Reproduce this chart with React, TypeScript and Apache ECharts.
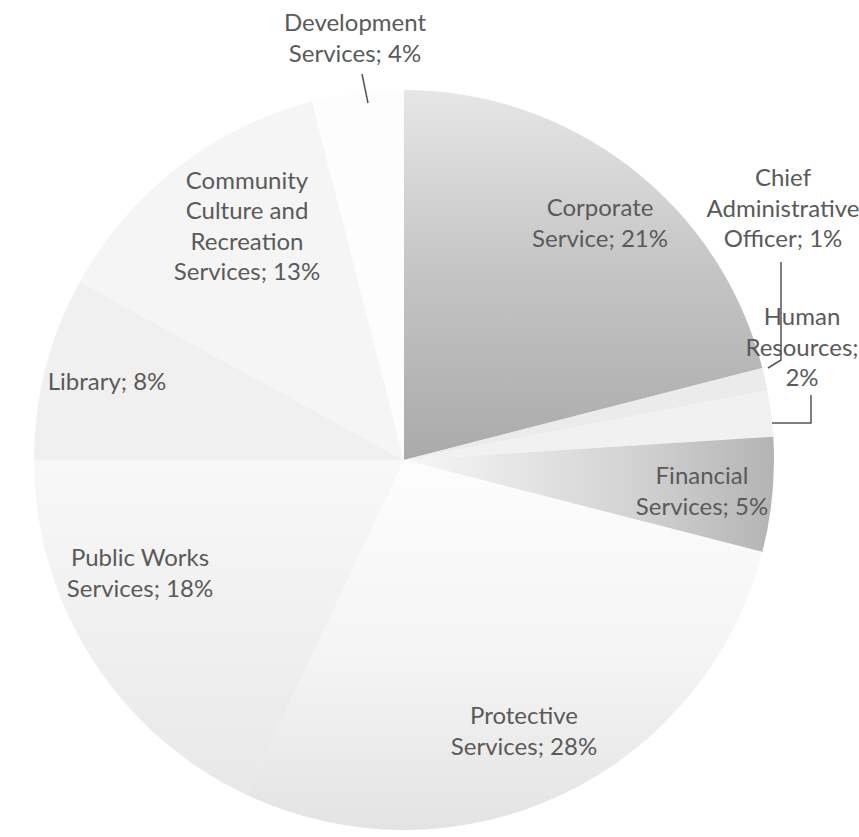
import React, { useEffect, useRef } from "react";
import * as echarts from "echarts";

// ---- data ----
const CATEGORIES = [
  "Corporate Service",
  "Chief Administrative Officer",
  "Human Resources",
  "Financial Services",
  "Protective Services",
  "Public Works Services",
  "Library",
  "Community Culture and Recreation Services",
  "Development Services",
];
const VALUES = [21, 1, 2, 5, 28, 18, 8, 13, 4];
const LABEL_NAMES = [
  "Corporate\nService",
  "Chief\nAdministrative\nOfficer",
  "Human\nResources",
  "Financial\nServices",
  "Protective\nServices",
  "Public Works\nServices",
  "Library",
  "Community\nCulture and\nRecreation\nServices",
  "Development\nServices",
];
const VALUE_ON_OWN_LINE = [false, false, true, false, false, false, false, false, false];
const OUTSIDE = [false, true, true, false, false, false, false, false, true];

// ---- layout / style ----
const CENTER = [404, 460];
const RADIUS = 370;
const LABEL_POS: number[][] = [
  [600, 222],
  [783, 207],
  [802, 346],
  [702, 490],
  [524, 730],
  [140, 572],
  [107, 380],
  [247, 225],
  [355, 37],
];
const LEADERS: Record<number, number[][]> = {
  1: [[768, 368], [781, 360], [781, 262]],
  2: [[766, 423], [811, 423], [811, 395]],
};
const DEV_LEADER = [[368, 103], [362, 74]];
const LINE_COLOR = "#555555";
const lin = (x2: number, y2: number, stops: [number, string][]) => ({
  type: "linear",
  x: 0,
  y: 0,
  x2,
  y2,
  colorStops: stops.map(([offset, color]) => ({ offset, color })),
});
const COLORS: any[] = [
  lin(0, 1, [[0, "#e6e6e6"], [0.5, "#c4c4c4"], [1, "#aaaaaa"]]),
  "#ebebeb",
  "#f1f1f1",
  lin(1, 0, [[0, "#f7f7f7"], [0.6, "#d4d4d4"], [1, "#b4b4b4"]]),
  lin(0, 1, [[0, "#fdfdfd"], [0.55, "#f4f4f4"], [1, "#e3e3e3"]]),
  lin(0, 1, [[0, "#f8f8f8"], [1, "#e8e8e8"]]),
  "#f0f0f0",
  "#f5f5f5",
  "#fdfdfd",
];

export default function App() {
  const ref = useRef<HTMLDivElement>(null);
  useEffect(() => {
    if (!ref.current) return;
    const chart = echarts.init(ref.current, undefined, { renderer: "svg" });
    const data = CATEGORIES.map((name, i) => ({
      name,
      value: VALUES[i],
      itemStyle: { color: COLORS[i] },
      label: { position: OUTSIDE[i] ? "outside" : "inside" },
      labelLine: { show: !!LEADERS[i] },
    }));
    chart.setOption({
      animation: false,
      backgroundColor: "#ffffff",
      graphic: [
        {
          type: "polyline",
          z: 100,
          silent: true,
          shape: { points: DEV_LEADER },
          style: { stroke: LINE_COLOR, lineWidth: 1.5, fill: "none" },
        },
      ],
      series: [
        {
          type: "pie",
          center: CENTER,
          radius: RADIUS,
          startAngle: 90,
          clockwise: true,
          avoidLabelOverlap: false,
          data,
          itemStyle: { borderWidth: 0 },
          labelLine: {
            showAbove: true,
            lineStyle: { color: LINE_COLOR, width: 1.5 },
          },
          label: {
            show: true,
            fontFamily: "Lato",
            fontSize: 24,
            lineHeight: 30.5,
            color: "#5a5a5a",
            align: "center",
            formatter: (p: any) =>
              LABEL_NAMES[p.dataIndex] +
              ";" +
              (VALUE_ON_OWN_LINE[p.dataIndex] ? "\n" : " ") +
              p.value +
              "%",
          },
          labelLayout: (params: any) => {
            const i = params.dataIndex;
            const pos = LABEL_POS[i];
            const o: any = {
              x: pos[0],
              y: pos[1],
              align: "center",
              verticalAlign: "middle",
            };
            if (LEADERS[i]) o.labelLinePoints = LEADERS[i];
            return o;
          },
        },
      ],
    });
    return () => chart.dispose();
  }, []);
  return (
    <div
      ref={ref}
      style={{ position: "fixed", left: 0, top: 0, width: 859, height: 837 }}
    />
  );
}
